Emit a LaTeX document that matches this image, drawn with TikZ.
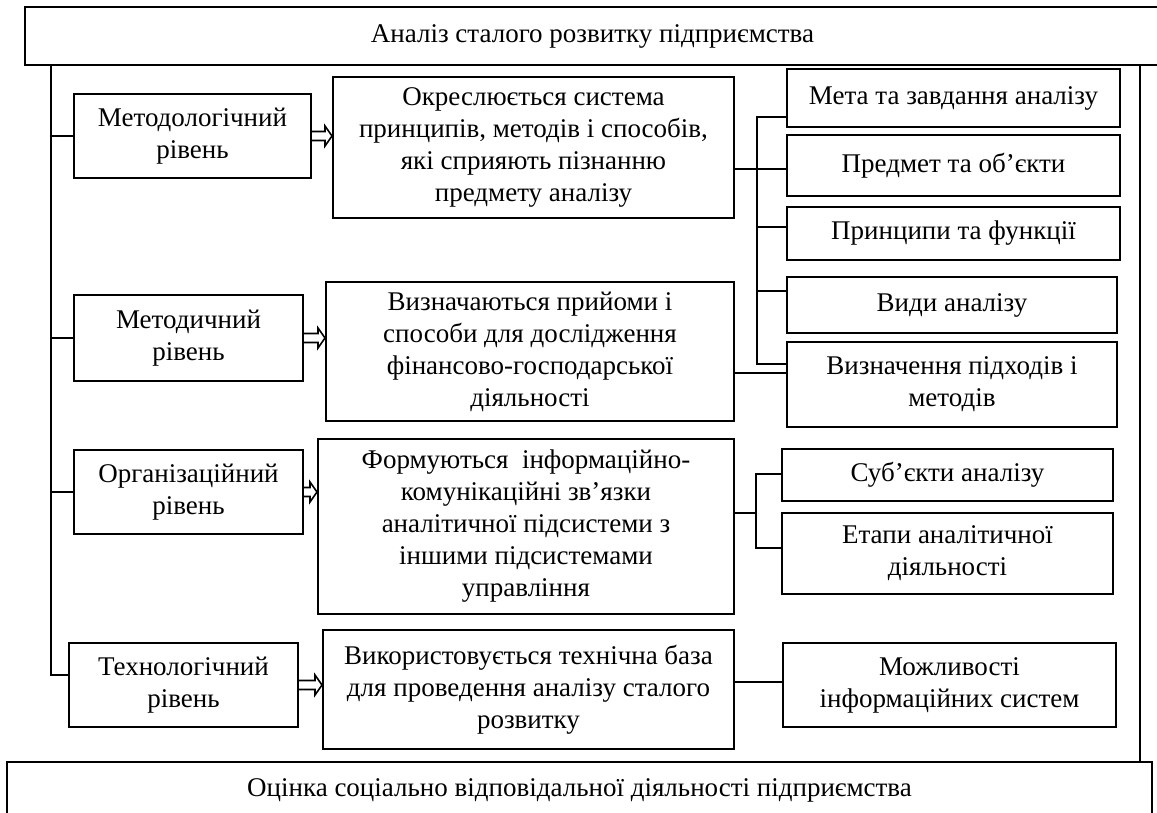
\documentclass[tikz,border=0pt]{standalone}
\usepackage{fontspec}
\setmainfont{Liberation Serif}
\usetikzlibrary{arrows.meta,positioning,calc}

\begin{document}
\begin{tikzpicture}[
    x=1pt, y=-1pt,
    font=\fontsize{27}{32}\selectfont,
    box/.style={draw, line width=2pt, align=center, inner sep=2pt},
    link/.style={line width=2pt},
    hollowarrow/.style={line width=1.6pt, line join=miter, to path={
        let \p1=(\tikztostart), \p2=(\tikztotarget) in
        (\x1,\y1+4.5) -- (\x2-7,\y1+4.5) -- (\x2-7,\y1+10) -- (\x2,\y1)
        -- (\x2-7,\y1-10) -- (\x2-7,\y1-4.5) -- (\x1,\y1-4.5)}},
]
    \useasboundingbox (0,0) rectangle (1157,813);

    % Top and bottom bands
    \node[box, minimum width=1135pt, minimum height=58pt] (top) at (592.5,36) {Аналіз сталого розвитку підприємства};
    \node[box, minimum width=1145pt, minimum height=56pt] (bot) at (579.5,790) {Оцінка соціально відповідальної діяльності підприємства};

    % Level nodes
    \node[box, minimum width=237pt, minimum height=84pt] (l1) at (192.5,136) {Методологічний\\рівень};
    \node[box, minimum width=229pt, minimum height=86pt] (l2) at (188.5,338) {Методичний\\рівень};
    \node[box, minimum width=229pt, minimum height=84pt] (l3) at (188.5,492) {Організаційний\\рівень};
    \node[box, minimum width=229pt, minimum height=84pt] (l4) at (183.5,685) {Технологічний\\рівень};

    % Content nodes
    \node[box, minimum width=401pt, minimum height=141pt] (m1) at (533.5,147.5) {Окреслюється система\\принципів, методів і способів,\\які сприяють пізнанню\\предмету аналізу};
    \node[box, minimum width=408pt, minimum height=139pt] (m2) at (530,351.5) {Визначаються прийоми і\\способи для дослідження\\фінансово-господарської\\діяльності};
    \node[box, minimum width=416pt, minimum height=175pt] (m3) at (526,526.5) {Формуються~ інформаційно-\\комунікаційні зв’язки\\аналітичної підсистеми з\\іншими підсистемами\\управління};
    \node[box, minimum width=411pt, minimum height=119pt] (m4) at (528.5,689.5) {Використовується технічна база\\для проведення аналізу сталого\\розвитку};

    % Element nodes
    \node[box, minimum width=333pt, minimum height=58pt] (r1) at (953.5,98) {Мета та завдання аналізу};
    \node[box, minimum width=333pt, minimum height=61pt] (r2) at (953.5,165.5) {Предмет та об’єкти};
    \node[box, minimum width=333pt, minimum height=53pt] (r3) at (953.5,233.5) {Принципи та функції};
    \node[box, minimum width=330pt, minimum height=56pt] (r4) at (952,305) {Види аналізу};
    \node[box, minimum width=330pt, minimum height=85pt] (r5) at (952,384.5) {Визначення підходів і\\методів};
    \node[box, minimum width=331pt, minimum height=52pt] (r6) at (947.5,475) {Суб’єкти аналізу};
    \node[box, minimum width=331pt, minimum height=81pt] (r7) at (947.5,553.5) {Етапи аналітичної\\діяльності};
    \node[box, minimum width=333pt, minimum height=84pt] (r8) at (949.5,685) {Можливості\\інформаційних систем};

    % Frame lines
    \coordinate (lt) at (51,65);
    \coordinate (rt) at (1140,65);
    \draw[link] (lt) |- ([yshift=10pt]l4.west);
    \draw[link] (rt) -- (rt |- bot.north);
    \foreach \n in {l1,l2,l3} {
        \draw[link] (\n.west) -- (\n.west -| lt);
    }

    % Level -> content
    \foreach \n/\m in {l1/m1,l2/m2,l3/m3,l4/m4} {
        \draw[hollowarrow] (\n.east) to (\m.west);
    }

    % Bracket of m1, m2
    \coordinate (b1t) at (757,117);
    \coordinate (b1b) at (757,364);
    \draw[link] (r1.west |- b1t) -- (b1t) -- (b1b) -- (r5.west |- b1b);
    \draw[link] ([yshift=-3.5pt]r2.west -| m1.east) -- ([yshift=-3.5pt]r2.west);
    \draw[link] ([yshift=6.5pt]r3.west) -- ([yshift=6.5pt]r3.west -| b1t);
    \draw[link] ([yshift=14pt]r4.west) -- ([yshift=14pt]r4.west -| b1t);
    \draw[link] ([yshift=-21.5pt]m2.east) -- ([yshift=-21.5pt]m2.east -| r5.west);

    % Bracket of m3
    \coordinate (b2t) at (756,474);
    \coordinate (b2b) at (756,548);
    \draw[link] (r6.west |- b2t) -- (b2t) -- (b2b) -- (r7.west |- b2b);
    \draw[link] ([yshift=13.5pt]m3.east) -- ([yshift=13.5pt]m3.east -| b2t);

    % m4 -> r8
    \draw[link] ([yshift=3pt]r8.west) -- ([yshift=3pt]r8.west -| m4.east);
\end{tikzpicture}
\end{document}
